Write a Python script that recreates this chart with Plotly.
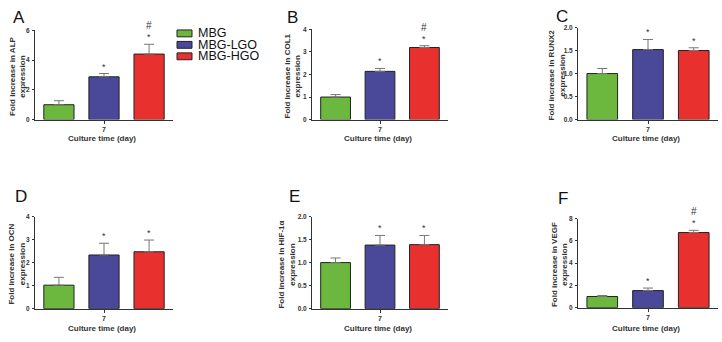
import plotly.graph_objects as go

W, H = 722, 342

# ---------------- data ----------------
groups = ["MBG", "MBG-LGO", "MBG-HGO"]
day = ["7"]
panel_letters = ["A", "B", "C", "D", "E", "F"]
genes = ["ALP", "COL1", "RUNX2", "OCN", "HIF-1α", "VEGF"]

alp_mean = [1.00, 2.88, 4.41]
alp_sem = [0.27, 0.22, 0.66]
col1_mean = [1.00, 2.14, 3.20]
col1_sem = [0.11, 0.13, 0.08]
runx2_mean = [1.00, 1.52, 1.50]
runx2_sem = [0.11, 0.22, 0.06]
ocn_mean = [1.02, 2.33, 2.47]
ocn_sem = [0.34, 0.51, 0.51]
hif_mean = [1.00, 1.38, 1.39]
hif_sem = [0.10, 0.21, 0.20]
vegf_mean = [1.00, 1.53, 6.74]
vegf_sem = [0.09, 0.23, 0.20]

# significance marks: * vs MBG, # vs MBG-LGO
alp_star = [0, 1, 1];   alp_hash = [0, 0, 1]
col1_star = [0, 1, 1];  col1_hash = [0, 0, 1]
runx2_star = [0, 1, 1]; runx2_hash = [0, 0, 0]
ocn_star = [0, 1, 1];   ocn_hash = [0, 0, 0]
hif_star = [0, 1, 1];   hif_hash = [0, 0, 0]
vegf_star = [0, 1, 1];  vegf_hash = [0, 0, 1]

y_max = [6, 4, 2, 4, 2, 8]
y_dtick = [2, 1, 0.5, 1, 0.5, 2]

means = [alp_mean, col1_mean, runx2_mean, ocn_mean, hif_mean, vegf_mean]
sems = [alp_sem, col1_sem, runx2_sem, ocn_sem, hif_sem, vegf_sem]
stars = [alp_star, col1_star, runx2_star, ocn_star, hif_star, vegf_star]
hashes = [alp_hash, col1_hash, runx2_hash, ocn_hash, hif_hash, vegf_hash]

# ---------------- style / layout ----------------
colors = ["#6cb83e", "#4a4898", "#e8312e"]
FONT = "Arial, Liberation Sans, sans-serif"
AX = "#333333"
BARGAP = 0.02
BARGROUPGAP = 0.33

# pixel boxes: x0, x1, ytop, ybottom
boxes = [
    (35, 173, 27, 118),
    (312, 448, 26, 118),
    (578, 718, 24, 118),
    (35, 173, 217, 311),
    (312, 448, 217, 311),
    (578, 718, 219, 310),
]
ytitle_off = [17, 20, 21, 18, 25, 19]
letter_pos = [(19, 14), (292, 14), (562, 13), (21, 197), (294, 197), (563, 199)]
xtitle_y = [137, 137, 137, 331, 331, 331]


def px(x):
    return x / W


def py(y):
    return 1 - y / H


fig = go.Figure()
annotations = []
layout_axes = {}

for p in range(6):
    sfx = "" if p == 0 else str(p + 1)
    xa, ya = "x" + sfx, "y" + sfx
    x0, x1, yt, yb = boxes[p]
    for i, g in enumerate(groups):
        fig.add_trace(go.Bar(
            x=day, y=[means[p][i]], name=g, xaxis=xa, yaxis=ya,
            offsetgroup=str(i), showlegend=False,
            marker=dict(color=colors[i], line=dict(color="#222222", width=1)),
            error_y=dict(type="data", symmetric=False, array=[sems[p][i]],
                         arrayminus=[0], color="#777777", thickness=1, width=5),
        ))
        xoff = (i - 1) * (1 - BARGAP) / 3
        top = means[p][i] + sems[p][i]
        if stars[p][i]:
            annotations.append(dict(x=xoff, y=top, xref=xa, yref=ya, text="*",
                                    showarrow=False, yanchor="bottom", yshift=0,
                                    font=dict(family=FONT, size=9, color="#333")))
        if hashes[p][i]:
            annotations.append(dict(x=xoff, y=top, xref=xa, yref=ya, text="#",
                                    showarrow=False, yanchor="bottom", yshift=11,
                                    font=dict(family=FONT, size=10, color="#333")))

    layout_axes["xaxis" + sfx] = dict(
        domain=[px(x0), px(x1)], anchor=ya, type="category",
        showline=True, linecolor=AX, linewidth=1, ticks="outside", ticklen=3,
        tickcolor=AX, showgrid=False, zeroline=False, fixedrange=True,
        ticklabelstandoff=0,
        tickfont=dict(family=FONT, size=7, color="#333", weight="bold"),
    )
    layout_axes["yaxis" + sfx] = dict(
        domain=[py(yb), py(yt)], anchor=xa, range=[0, y_max[p]],
        dtick=y_dtick[p], tick0=0, tickformat=".1f" if y_dtick[p] < 1 else "d",
        showline=True, linecolor=AX, linewidth=1, ticks="outside", ticklen=2,
        tickcolor=AX, showgrid=False, zeroline=False, ticklabelstandoff=1,
        fixedrange=True,
        tickfont=dict(family=FONT, size=6.5, color="#333", weight="bold"),
    )
    # y title
    annotations.append(dict(
        x=px(x0 - ytitle_off[p]), y=py((yt + yb) / 2 + 2), xref="paper", yref="paper",
        text="Fold increase in " + genes[p] + "<br>expression", textangle=-90,
        showarrow=False, xanchor="center", yanchor="middle",
        font=dict(family=FONT, size=8, color="#333", weight="bold")))
    # x title
    annotations.append(dict(
        x=px((x0 + x1) / 2 - 2), y=py(xtitle_y[p]), xref="paper", yref="paper",
        text="Culture time (day)", showarrow=False, xanchor="center",
        yanchor="middle",
        font=dict(family=FONT, size=8, color="#333", weight="bold")))
    # panel letter
    lx, ly = letter_pos[p]
    annotations.append(dict(
        x=px(lx), y=py(ly), xref="paper", yref="paper", text=panel_letters[p],
        showarrow=False, xanchor="center", yanchor="middle",
        font=dict(family=FONT, size=17, color="#111")))

# manual legend
shapes = []
for i, g in enumerate(groups):
    cy = 30 + 11.7 * i
    shapes.append(dict(type="rect", xref="paper", yref="paper",
                       x0=px(177), x1=px(192), y0=py(cy + 3.5), y1=py(cy - 3.5),
                       fillcolor=colors[i], line=dict(color="#222", width=1)))
    annotations.append(dict(x=px(196), y=py(cy), xref="paper", yref="paper",
                            text=g, showarrow=False, xanchor="left",
                            yanchor="middle",
                            font=dict(family=FONT, size=12.5, color="#111")))

fig.update_layout(
    width=W, height=H, margin=dict(l=0, r=0, t=0, b=0),
    paper_bgcolor="white", plot_bgcolor="white",
    barmode="group", bargap=BARGAP, bargroupgap=BARGROUPGAP,
    showlegend=False, annotations=annotations, shapes=shapes,
    font=dict(family=FONT),
    **layout_axes,
)

fig.write_html(
    "out.html",
    config={"displayModeBar": False},
    post_script="document.body.style.margin='0';document.body.style.padding='0';"
                "document.body.style.overflow='hidden';",
)
